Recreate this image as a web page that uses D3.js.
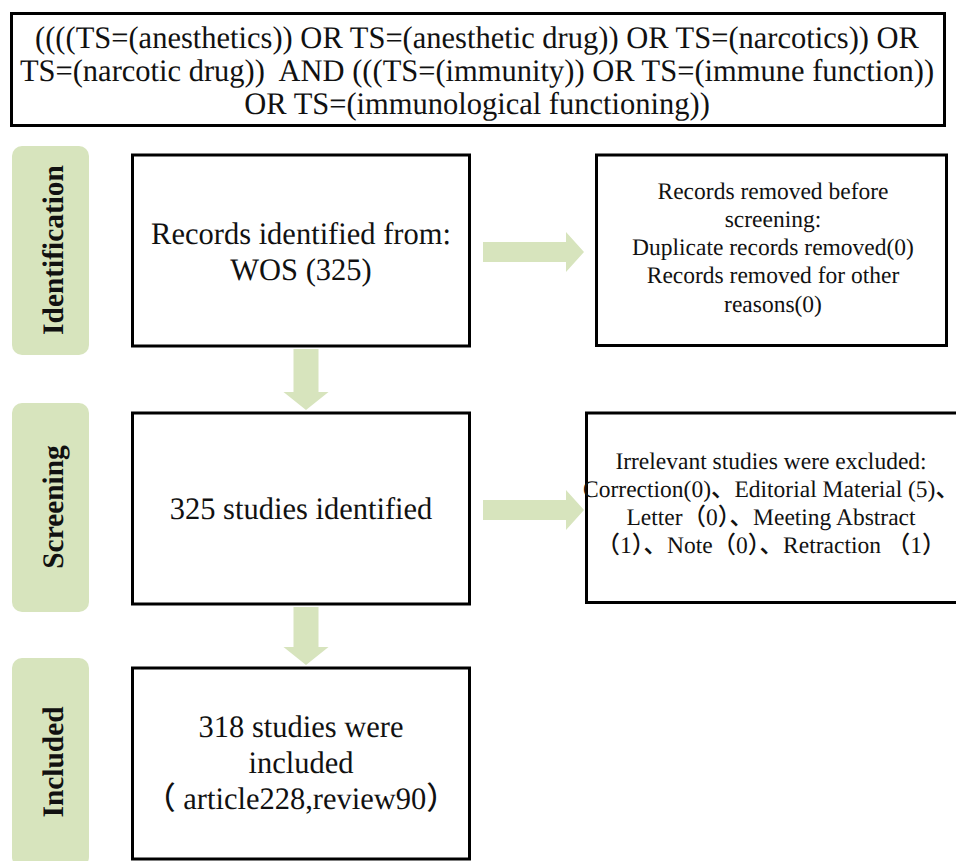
<!DOCTYPE html>
<html>
<head>
<meta charset="utf-8">
<script src="https://cdn.jsdelivr.net/npm/d3@7"></script>
<style>
  body { margin: 0; background: #fff; }
</style>
</head>
<body>
<div id="chart"></div>
<script>
// search query shown in the top box
const queryLines = [
    "((((TS=(anesthetics)) OR TS=(anesthetic drug)) OR TS=(narcotics)) OR",
    "TS=(narcotic drug))  AND (((TS=(immunity)) OR TS=(immune function))",
    "OR TS=(immunological functioning))"
];

// phases on the left
const stages = ["Identification", "Screening", "Included"];

// main column boxes
const mainBoxes = [
    ["Records identified from:", "WOS (325)"],
    ["325 studies identified"],
    ["318 studies were", "included", "\uFF08 article228,review90\uFF09"]
];

// side boxes (exclusions)
const sideBoxes = [
    ["Records removed before", "screening:", "Duplicate records removed(0)", "Records removed for other", "reasons(0)"],
    ["Irrelevant studies were excluded:", "Correction(0)\u3001Editorial Material (5)\u3001", "Letter\uFF080\uFF09\u3001Meeting Abstract", "\uFF081\uFF09\u3001Note\uFF080\uFF09\u3001Retraction \uFF081\uFF09"]
];

const W = 956, H = 861;
const green = "#d7e4bd";
const serif = "'Liberation Serif', 'Noto Sans CJK SC', serif";

const svg = d3.select("#chart").append("svg")
    .attr("width", W).attr("height", H)
    .style("font-family", serif);

// a slightly taller-than-wide scale keeps the serif face at large sizes
function addText(parent, str, x, y, size, opts = {}) {
    const sy = (opts.sy || size * 1.02) / size;
    const rot = opts.rotate ? ` rotate(${opts.rotate})` : "";
    return parent.append("g")
        .attr("transform", `translate(${x},${y})${rot} scale(1,${sy})`)
        .append("text")
        .attr("text-anchor", opts.anchor || "middle")
        .attr("font-family", serif)
        .attr("font-size", size)
        .attr("font-weight", opts.weight || 500)
        .attr("text-rendering", "geometricPrecision")
        .attr("fill", "#111")
        .style("white-space", "pre")
        .text(str);
}

// layout of rows
const rowY = d3.scaleOrdinal().domain(stages).range([155, 413, 668]);
const boxH = 191;
const labelTop = d3.scaleOrdinal().domain(stages).range([146, 403, 658]);

// top query box
svg.append("rect")
    .attr("x", 11.5).attr("y", 13.5).attr("width", 933).attr("height", 112)
    .attr("fill", "#fff").attr("stroke", "#000").attr("stroke-width", 3);

const topG = svg.append("g");
queryLines.forEach((d, i) => addText(topG, d, 477, 48 + i * 33, 30.5, {sy: 31.5}));

// stage labels
const labelG = svg.append("g");
stages.forEach(s => {
    labelG.append("rect")
        .attr("x", 12).attr("y", labelTop(s))
        .attr("width", 77).attr("height", 209)
        .attr("rx", 10)
        .attr("fill", green);
    addText(labelG, s, 63, labelTop(s) + 104, 29.4, {rotate: -90, weight: "bold", sy: 29.8});
});

// main boxes
const mainX = 132.5, mainW = 337;
const mainBase = [[244, 280], [519], [737, 773, 809]];
const mainG = svg.append("g");
mainBoxes.forEach((lines, i) => {
    const y0 = rowY(stages[i]);
    mainG.append("rect")
        .attr("x", mainX).attr("y", y0)
        .attr("width", mainW).attr("height", boxH)
        .attr("fill", "#fff").attr("stroke", "#000").attr("stroke-width", 3);
    lines.forEach((d, j) => addText(mainG, d, mainX + mainW / 2, mainBase[i][j], 30.5, {sy: 31.2}));
});

// side boxes
const sideX = [596.5, 586.5], sideW = [350, 380];
const sideBase = [[199, 227, 255, 283, 311.5], [469, 497, 525, 553]];
const sideG = svg.append("g");
sideBoxes.forEach((lines, i) => {
    const y0 = rowY(stages[i]);
    sideG.append("rect")
        .attr("x", sideX[i]).attr("y", y0)
        .attr("width", sideW[i]).attr("height", i === 0 ? 190.5 : 189.5)
        .attr("fill", "#fff").attr("stroke", "#000").attr("stroke-width", 3);
    lines.forEach((d, j) => addText(sideG, d, i === 0 ? 773 : 771, sideBase[i][j], 23.5, {sy: 23.8}));
});

// stray glyph peeking out at the top of the first side box
svg.append("clipPath").attr("id", "peek")
    .append("rect").attr("x", 755).attr("y", 146).attr("width", 30).attr("height", 8);
addText(svg.append("g").attr("clip-path", "url(#peek)"), "R", 768, 170, 23.5)
    .attr("fill", "#555");

// arrows
const arrowsG = svg.append("g").attr("fill", green);
// horizontal arrows from main to side
[252, 510].forEach(cy => {
    const x0 = 483, xh = 566, x1 = 584;
    arrowsG.append("path")
        .attr("d", `M${x0},${cy - 10}H${xh}V${cy - 20}L${x1},${cy}L${xh},${cy + 20}V${cy + 10}H${x0}Z`);
});
// vertical arrows between stages
[0, 1].forEach(i => {
    const y0 = rowY(stages[i]) + boxH + 3;
    const y1 = rowY(stages[i + 1]) - 3;
    const yh = y1 - 18;
    const cx = 306;
    arrowsG.append("path")
        .attr("d", `M${cx - 12.5},${y0}V${yh}H${cx - 22.5}L${cx},${y1}L${cx + 22.5},${yh}H${cx + 12.5}V${y0}Z`);
});
</script>
</body>
</html>
